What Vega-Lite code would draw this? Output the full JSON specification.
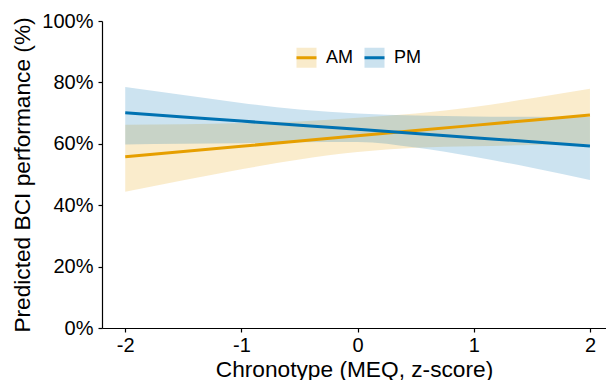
{
  "$schema": "https://vega.github.io/schema/vega-lite/v6.json",
  "autosize": {"type": "none"},
  "padding": {"left": 102, "top": 21, "right": 0, "bottom": 52},
  "width": 504,
  "height": 307,
  "config": {
    "font": "Liberation Sans",
    "view": {"stroke": null},
    "axis": {
      "grid": false,
      "domainColor": "black",
      "domainWidth": 1.2,
      "tickColor": "black",
      "tickWidth": 1.2,
      "tickSize": 4,
      "labelColor": "black",
      "labelFontSize": 20,
      "labelFont": "Liberation Sans",
      "titleFont": "Liberation Sans",
      "titleFontSize": 22.7,
      "titleFontWeight": "normal",
      "titleColor": "black"
    }
  },
  "data": {
    "values": [
      {"group": "AM", "x": -2, "fit": 55.8, "lo": 44.4, "hi": 66.2},
      {"group": "AM", "x": -1.5, "fit": 57.5, "lo": 48.1, "hi": 66.4},
      {"group": "AM", "x": -1, "fit": 59.2, "lo": 51.7, "hi": 66.8},
      {"group": "AM", "x": -0.5, "fit": 60.9, "lo": 54.9, "hi": 67.3},
      {"group": "AM", "x": 0, "fit": 62.6, "lo": 57.3, "hi": 68.5},
      {"group": "AM", "x": 0.5, "fit": 64.3, "lo": 58.7, "hi": 69.9},
      {"group": "AM", "x": 1, "fit": 66.0, "lo": 59.2, "hi": 72.0},
      {"group": "AM", "x": 1.5, "fit": 67.7, "lo": 59.6, "hi": 74.8},
      {"group": "AM", "x": 2, "fit": 69.4, "lo": 59.9, "hi": 77.9},
      {"group": "PM", "x": -2, "fit": 70.1, "lo": 59.8, "hi": 78.5},
      {"group": "PM", "x": -1.5, "fit": 68.75, "lo": 60.0, "hi": 75.9},
      {"group": "PM", "x": -1, "fit": 67.4, "lo": 60.2, "hi": 73.3},
      {"group": "PM", "x": -0.5, "fit": 66.05, "lo": 60.5, "hi": 71.2},
      {"group": "PM", "x": 0, "fit": 64.7, "lo": 60.6, "hi": 69.9},
      {"group": "PM", "x": 0.5, "fit": 63.35, "lo": 58.8, "hi": 69.2},
      {"group": "PM", "x": 1, "fit": 62.0, "lo": 55.8, "hi": 68.9},
      {"group": "PM", "x": 1.5, "fit": 60.65, "lo": 52.2, "hi": 68.8},
      {"group": "PM", "x": 2, "fit": 59.3, "lo": 48.2, "hi": 68.7}
    ]
  },
  "encoding": {
    "x": {
      "field": "x",
      "type": "quantitative",
      "scale": {"domain": [-2.2, 2.138], "nice": false, "zero": false},
      "axis": {"values": [-2, -1, 0, 1, 2], "labelExpr": "'' + datum.value", "title": "Chronotype (MEQ, z-score)", "labelPadding": 3, "titlePadding": 3}
    }
  },
  "layer": [
    {
      "mark": {"type": "area", "opacity": 0.2, "interpolate": "monotone"},
      "encoding": {
        "y": {
          "field": "lo",
          "type": "quantitative",
          "scale": {"domain": [0, 100], "nice": false},
          "axis": {"values": [0, 20, 40, 60, 80, 100], "labelExpr": "datum.value + '%'", "title": "Predicted BCI performance (%)", "labelPadding": 5, "titlePadding": 7}
        },
        "y2": {"field": "hi"},
        "fill": {
          "field": "group",
          "type": "nominal",
          "scale": {"range": ["#E69F00", "#0072B2"]},
          "legend": {
            "orient": "none", "legendX": 193, "legendY": 25, "direction": "horizontal",
            "title": null, "symbolType": "square", "symbolSize": 400, "symbolOpacity": 0.2,
            "symbolStrokeWidth": 3, "symbolStrokeColor": "transparent", "labelFontSize": 18, "labelOffset": 8, "columnPadding": 5,
            "padding": 0, "labelColor": "black", "labelFont": "Liberation Sans", "zindex": 0
          }
        }
      }
    },
    {
      "mark": {"type": "line", "strokeWidth": 3},
      "encoding": {
        "y": {"field": "fit", "type": "quantitative"},
        "stroke": {
          "field": "group",
          "type": "nominal",
          "scale": {"domain": ["AM", "PM"], "range": ["#E69F00", "#0072B2"]},
          "legend": {
            "orient": "none", "legendX": 193, "legendY": 25, "direction": "horizontal",
            "title": null, "symbolType": "stroke", "symbolSize": 400, "symbolOpacity": 1,
            "symbolStrokeWidth": 3, "labelFontSize": 18, "labelOffset": 8, "columnPadding": 5,
            "padding": 0, "labelColor": "black", "labelOpacity": 0, "labelFont": "Liberation Sans", "zindex": 1
          }
        }
      }
    }
  ]
}
